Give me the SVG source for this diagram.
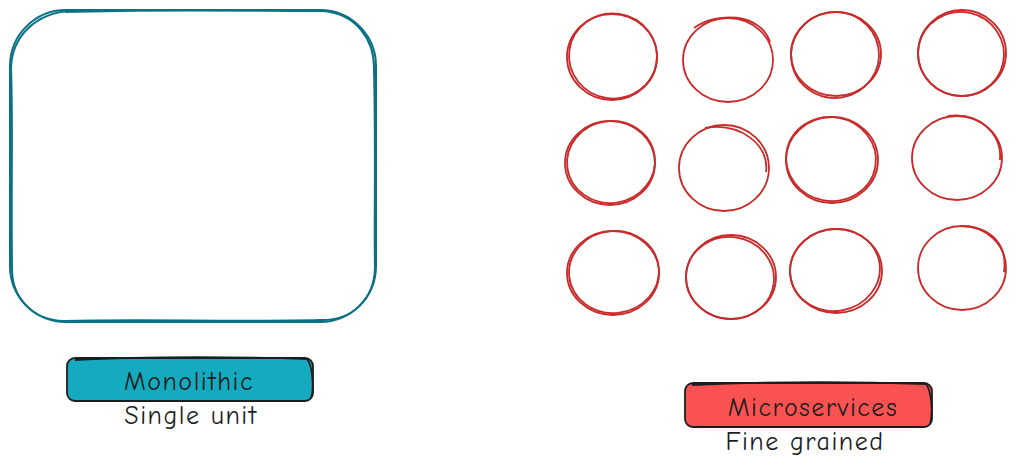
<svg xmlns="http://www.w3.org/2000/svg" width="1018" height="470" viewBox="0 0 1018 470">
<style>
.mono{fill:none;stroke:#0b7285;stroke-width:2;stroke-linecap:round}
.svc{fill:none;stroke:#c92a2a;stroke-width:1.8}
.lbl{stroke:#1e1e1e;stroke-width:1.8}
.t{font-family:"Comic Neue","Lato","Liberation Sans",sans-serif;font-size:26px;letter-spacing:1.5px;fill:#1e1e1e;text-anchor:middle}
</style>
<rect width="1018" height="470" fill="#ffffff"/>
<g id="monolith">
<rect class="mono" x="10" y="10" width="366" height="312" rx="56" ry="56"/>
<path class="mono" d="M66 12 C150 9 260 11 322 11 C356 13 375 40 374 70 C376 150 374 230 375 268 C374 300 352 321 320 320 C240 322 140 319 64 321 C32 320 11 298 12 266 C11 190 13 120 11 68 C12 36 36 13 70 11" stroke-width="1.5"/>
</g>
<g id="services">
<g id="svc-1-1"><ellipse class="svc" cx="612" cy="57" rx="45" ry="43"/><ellipse class="svc" cx="613" cy="56" rx="44" ry="42.5" transform="rotate(8 613 56)"/></g>
<g id="svc-1-2"><ellipse class="svc" cx="728" cy="60" rx="45" ry="42"/><path class="svc" d="M694 28 C716 12 760 12 770 42"/></g>
<g id="svc-1-3"><ellipse class="svc" cx="836" cy="54" rx="45" ry="42"/><ellipse class="svc" cx="835" cy="55" rx="44" ry="43" transform="rotate(-10 835 55)"/></g>
<g id="svc-1-4"><ellipse class="svc" cx="962" cy="53" rx="44" ry="43"/><ellipse class="svc" cx="961" cy="54" rx="43" ry="42" transform="rotate(12 961 54)"/></g>
<g id="svc-2-1"><ellipse class="svc" cx="610" cy="163" rx="45" ry="42"/><ellipse class="svc" cx="611" cy="162" rx="44" ry="41" transform="rotate(-8 611 162)"/></g>
<g id="svc-2-2"><ellipse class="svc" cx="724" cy="168" rx="45" ry="43"/><path class="svc" d="M705 128 C740 122 770 145 766 172"/></g>
<g id="svc-2-3"><ellipse class="svc" cx="832" cy="160" rx="46" ry="43"/><ellipse class="svc" cx="831" cy="159" rx="45" ry="42" transform="rotate(10 831 159)"/></g>
<g id="svc-2-4"><ellipse class="svc" cx="957" cy="158" rx="45" ry="42"/><path class="svc" d="M948 116 C980 112 1002 134 1000 160"/></g>
<g id="svc-3-1"><ellipse class="svc" cx="613" cy="273" rx="46" ry="42"/><ellipse class="svc" cx="614" cy="272" rx="45" ry="41" transform="rotate(-6 614 272)"/></g>
<g id="svc-3-2"><ellipse class="svc" cx="731" cy="277" rx="45" ry="42"/><ellipse class="svc" cx="730" cy="278" rx="44" ry="41" transform="rotate(8 730 278)"/></g>
<g id="svc-3-3"><ellipse class="svc" cx="836" cy="271" rx="46" ry="42"/><ellipse class="svc" cx="835" cy="270" rx="45" ry="41" transform="rotate(-10 835 270)"/></g>
<g id="svc-3-4"><ellipse class="svc" cx="962" cy="268" rx="44" ry="42"/><path class="svc" d="M960 226 C990 226 1008 244 1004 272"/></g>
</g>
<g id="monolithic-label">
<rect class="lbl" x="67" y="358" width="246" height="43" rx="8" fill="#15aabf"/>
<path class="lbl" fill="none" d="M75 360 C150 356 250 357 307 359 C313 366 314 390 311 398" stroke-width="1.2"/>
<text class="t" x="189" y="390">Monolithic</text>
<text class="t" x="191" y="424">Single unit</text>
</g>
<g id="microservices-label">
<rect class="lbl" x="685" y="383" width="247" height="44" rx="8" fill="#fa5252"/>
<path class="lbl" fill="none" d="M692 385 C780 381 870 382 926 384 C932 392 933 414 930 424" stroke-width="1.2"/>
<text class="t" x="813" y="416">Microservices</text>
<text class="t" x="805" y="450">Fine grained</text>
</g>
</svg>
